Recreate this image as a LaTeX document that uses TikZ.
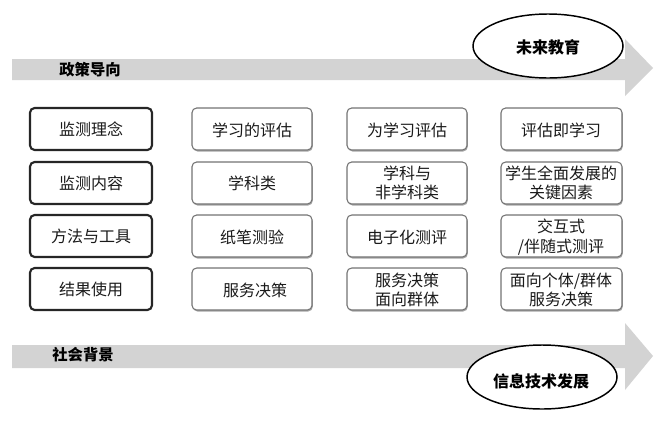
\documentclass[tikz,border=0pt]{standalone}
\usepackage{fontspec}
\setmainfont{Noto Sans CJK SC}
\usetikzlibrary{shapes.geometric}
\definecolor{arrowgray}{HTML}{D3D3D3}
\definecolor{txt}{HTML}{1A1A1A}
\tikzset{
  lbl/.style={font=\fontsize{12}{14.5}\selectfont, text=txt, align=center, inner sep=0pt},
  headbox/.style={draw=black!85, line width=1.6pt, rounded corners=3.5pt, fill=white},
  itembox/.style={draw=black!55, line width=0.8pt, rounded corners=3.5pt, fill=white},
  shadowbox/.style={fill=black!35, rounded corners=3.5pt},
  bigarrow/.style={fill=arrowgray, draw=none},
  oval/.style={draw=black, line width=1.1pt, fill=white},
  ovallbl/.style={font=\bfseries\fontsize{12}{14}\selectfont, text=black, inner sep=0pt},
  arrowlbl/.style={font=\bfseries\fontsize{11.5}{14}\selectfont, text=black, inner sep=0pt}
}
\begin{document}
\begin{tikzpicture}[x=0.75pt,y=-0.75pt]
\useasboundingbox (0,0) rectangle (666,425);
% top arrow
\fill[bigarrow] (12,59) -- (625,59) -- (625,39) -- (653,68) -- (625,96) -- (625,80) -- (12,80) -- cycle;
\node[arrowlbl] (policy) at (90,70) {政策导向};
\draw[oval] (548,46) ellipse [x radius=75, y radius=32];
\node[ovallbl] (future) at (548,47) {未来教育};
% bottom arrow
\fill[bigarrow] (12,345) -- (625,345) -- (625,323) -- (653,356) -- (625,390) -- (625,368) -- (12,368) -- cycle;
\node[arrowlbl] (society) at (83,355) {社会背景};
\draw[oval] (542,377) ellipse [x radius=75, y radius=32];
\node[ovallbl] (tech) at (541,381) {信息技术发展};
% boxes
\foreach \t in {108,162,215,268} {
  \pgfmathsetmacro{\b}{\t+42}
  \draw[headbox] (30,\t) rectangle (152,\b);
  \foreach \xa/\xb in {192/312, 347/467, 501/622} {
    \fill[shadowbox] (\xa+0.8,\t+1.5) rectangle (\xb+0.8,\b+1.5);
    \draw[itembox] (\xa,\t) rectangle (\xb,\b);
  }
}
% column 1
\node[lbl] (h1) at (91,129) {监测理念};
\node[lbl] (h2) at (91,183) {监测内容};
\node[lbl] (h3) at (91,236) {方法与工具};
\node[lbl] (h4) at (91,289) {结果使用};
% column 2
\node[lbl] (a1) at (252,130) {学习的评估};
\node[lbl] (a2) at (252,183) {学科类};
\node[lbl] (a3) at (252,237) {纸笔测验};
\node[lbl] (a4) at (255,290) {服务决策};
% column 3
\node[lbl] (b1) at (407,130) {为学习评估};
\node[lbl] (b2) at (407,183) {学科与\\非学科类};
\node[lbl] (b3) at (407,237) {电子化测评};
\node[lbl] (b4) at (407,290) {服务决策\\面向群体};
% column 4
\node[lbl] (c1) at (561,130) {评估即学习};
\node[lbl] (c2) at (561,183) {学生全面发展的\\关键因素};
\node[lbl] (c3) at (561,237) {交互式\\/伴随式测评};
\node[lbl] (c4) at (561,290) {面向个体/群体\\服务决策};
\end{tikzpicture}
\end{document}
